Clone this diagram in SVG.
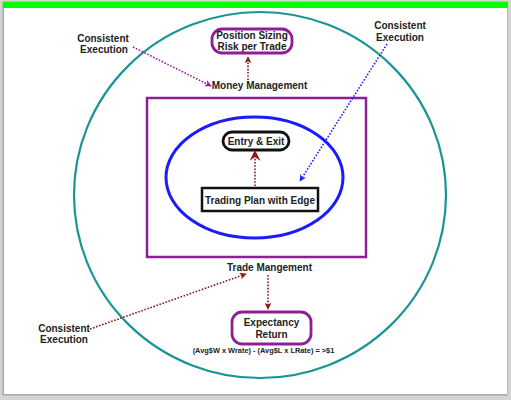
<svg xmlns="http://www.w3.org/2000/svg" width="511" height="400" viewBox="0 0 511 400">
<defs>
<style>
text{font-family:"Liberation Sans",Arial,sans-serif;font-weight:bold;fill:#222;text-anchor:middle}
.lbl{font-size:10px}
.small{font-size:7.4px}
.dot{fill:none;stroke-width:1.6;stroke-dasharray:1.6 1.6}
</style>
<marker id="arRed" viewBox="0 0 10 10" refX="9" refY="5" markerWidth="7" markerHeight="7" orient="auto" markerUnits="userSpaceOnUse"><path d="M0,0 L10,5 L0,10 L3,5 z" fill="#8b1a1a"/></marker>
<marker id="arRedBig" viewBox="0 0 10 10" refX="9" refY="5" markerWidth="11" markerHeight="11" orient="auto" markerUnits="userSpaceOnUse"><path d="M0,0 L10,5 L0,10 L3.5,5 z" fill="#8b1a1a"/></marker>
<marker id="arPur" viewBox="0 0 10 10" refX="9" refY="5" markerWidth="7" markerHeight="7" orient="auto" markerUnits="userSpaceOnUse"><path d="M0,0 L10,5 L0,10 L3,5 z" fill="#9b1a9b"/></marker>
<marker id="arBlue" viewBox="0 0 10 10" refX="9" refY="5" markerWidth="7" markerHeight="7" orient="auto" markerUnits="userSpaceOnUse"><path d="M0,0 L10,5 L0,10 L3,5 z" fill="#2020ff"/></marker>
</defs>
<g id="frame">
<rect x="0" y="0" width="511" height="400" fill="#d4d4d4"/>
<rect x="2.5" y="1.5" width="505" height="394" fill="#a8a8a8"/>
<rect x="4" y="2" width="503" height="392" fill="#ffffff"/>
<rect x="3" y="2" width="505" height="6" fill="#00ff00"/>
</g>
<g id="outer-circle"><ellipse cx="260" cy="195" rx="186" ry="183" fill="none" stroke="#1a9494" stroke-width="2.2"/></g>
<g id="trade-box"><rect x="147" y="98" width="219" height="159" fill="none" stroke="#8e1e96" stroke-width="2.5"/></g>
<g id="plan-ellipse"><ellipse cx="254.5" cy="177.5" rx="88.5" ry="60.5" fill="none" stroke="#1a1aff" stroke-width="3"/></g>
<g id="entry-exit">
<rect x="223" y="132" width="66" height="18" rx="9" fill="#fff" stroke="#111" stroke-width="2.8"/>
<text class="lbl" x="256" y="144.5">Entry &amp; Exit</text>
</g>
<g id="trading-plan">
<rect x="202" y="188" width="116" height="23" fill="#fff" stroke="#111" stroke-width="2.5"/>
<text class="lbl" x="260" y="203.5">Trading Plan with Edge</text>
</g>
<g id="position-sizing">
<rect x="212" y="29" width="80" height="24" rx="10" fill="#fff" stroke="#8e1e96" stroke-width="2.8"/>
<text class="lbl" x="252" y="39">Position Sizing</text>
<text class="lbl" x="252" y="49.5">Risk per Trade</text>
</g>
<g id="money-management"><text class="lbl" x="259.5" y="89">Money Management</text></g>
<g id="trade-mangement"><text class="lbl" x="269.5" y="271">Trade Mangement</text></g>
<g id="expectancy">
<rect x="232" y="312" width="79" height="32" rx="10" fill="#fff" stroke="#8e1e96" stroke-width="2.8"/>
<text class="lbl" x="271.5" y="326">Expectancy</text>
<text class="lbl" x="271.5" y="337.5">Return</text>
</g>
<g id="formula"><text class="small" x="263.5" y="353">(Avg$W x Wrate) - (Avg$L x LRate) = &gt;$1</text></g>
<g id="ce-top-left">
<text class="lbl" x="103" y="42">Consistent</text>
<text class="lbl" x="104" y="53">Execution</text>
</g>
<g id="ce-top-right">
<text class="lbl" x="400" y="29">Consistent</text>
<text class="lbl" x="400" y="41">Execution</text>
</g>
<g id="ce-bottom-left">
<text class="lbl" x="64" y="332">Consistent</text>
<text class="lbl" x="64" y="343">Execution</text>
</g>
<g id="connectors">
<line class="dot" x1="255" y1="186" x2="255" y2="151" stroke="#8b1a1a" stroke-width="3" stroke-dasharray="2.5 2.5" marker-end="url(#arRedBig)"/>
<line class="dot" x1="248" y1="80" x2="248" y2="57" stroke="#8b1a1a" marker-end="url(#arRed)"/>
<line class="dot" x1="268" y1="275" x2="268" y2="309" stroke="#8b1a1a" marker-end="url(#arRed)"/>
<line class="dot" x1="90" y1="329" x2="246" y2="274" stroke="#8b1a1a" marker-end="url(#arRed)"/>
<line class="dot" x1="133" y1="47" x2="211" y2="86" stroke="#9b1a9b" marker-end="url(#arPur)"/>
<line class="dot" x1="387" y1="44" x2="300" y2="181" stroke="#2020ff" marker-end="url(#arBlue)"/>
</g>
</svg>
